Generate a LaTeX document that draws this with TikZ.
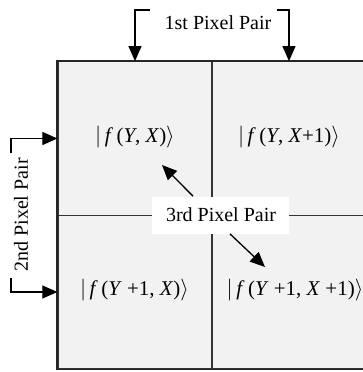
\documentclass[tikz,border=0pt]{standalone}
\usepackage{fontspec}
\setmainfont{Liberation Serif}
\usepackage{tikz}
\usetikzlibrary{arrows.meta,positioning,calc}
\tikzset{
  px/.style={x=0.5pt, y=-0.5pt, font=\fontsize{10}{12}\selectfont},
  q cell/.style={draw=black!80, line width=0.65pt, fill=black!5, minimum width=77pt, minimum height=76.75pt, inner sep=0pt},
  q frame/.style={draw=black!85, line width=0.9pt},
  q ket/.style={font=\fontsize{10.5}{12}\selectfont, inner sep=1pt},
  q pair/.style={fill=white, inner sep=0pt, minimum width=68.5pt, minimum height=18.5pt},
  q arr/.style={-{Triangle[length=7.5pt, width=6.5pt]}, line width=0.65pt},
}
\newcommand{\kv}[1]{\textit{#1}}

\begin{document}
\begin{tikzpicture}[px]
\useasboundingbox (0,0) rectangle (363,372);
% the four cells
\node[q cell] (q11) at (135,138.5) {};
\node[q cell] (q12) at (289,138.5) {};
\node[q cell] (q21) at (135,292) {};
\node[q cell] (q22) at (289,292) {};
\draw[q frame] (q11.north west) rectangle (q22.south east);
\node[q ket] (k11) at (135,137) {$|$\,\kv{f}\,(\kv{Y}, \kv{X})$\rangle$};
\node[q ket] (k12) at (289,137) {$|$\,\kv{f}\,(\kv{Y}, \kv{X}+1)$\rangle$};
\node[q ket] (k21) at (134.5,290) {$|$\,\kv{f}\,(\kv{Y} +1, \kv{X})$\rangle$};
\node[q ket] (k22) at (295,290) {$|$\,\kv{f}\,(\kv{Y} +1, \kv{X} +1)$\rangle$};
% labels
\node (p1) at (218,23) {1st Pixel Pair};
\node[rotate=90] (p2) at (21,215) {2nd Pixel Pair};
\node[q pair] (p3) at (221,215) {3rd Pixel Pair};
% free ends
\coordinate (h1l) at (150,10);
\coordinate (h1r) at (277,10);
\coordinate (h2u) at (11,153);
\coordinate (h2d) at (11,278);
\coordinate (t3u) at (162,165);
\coordinate (t3d) at (265,267);
\draw[q arr] (h1l) -| (q11.north);
\draw[q arr] (h1r) -| (q12.north);
\draw[q arr] (h2u) |- (q11.west);
\draw[q arr] (h2d) |- (q21.west);
\draw[q arr] ([xshift=-14pt]p3.north) -- (t3u);
\draw[q arr] ([xshift=4.5pt]p3.south) -- (t3d);
\end{tikzpicture}
\end{document}
